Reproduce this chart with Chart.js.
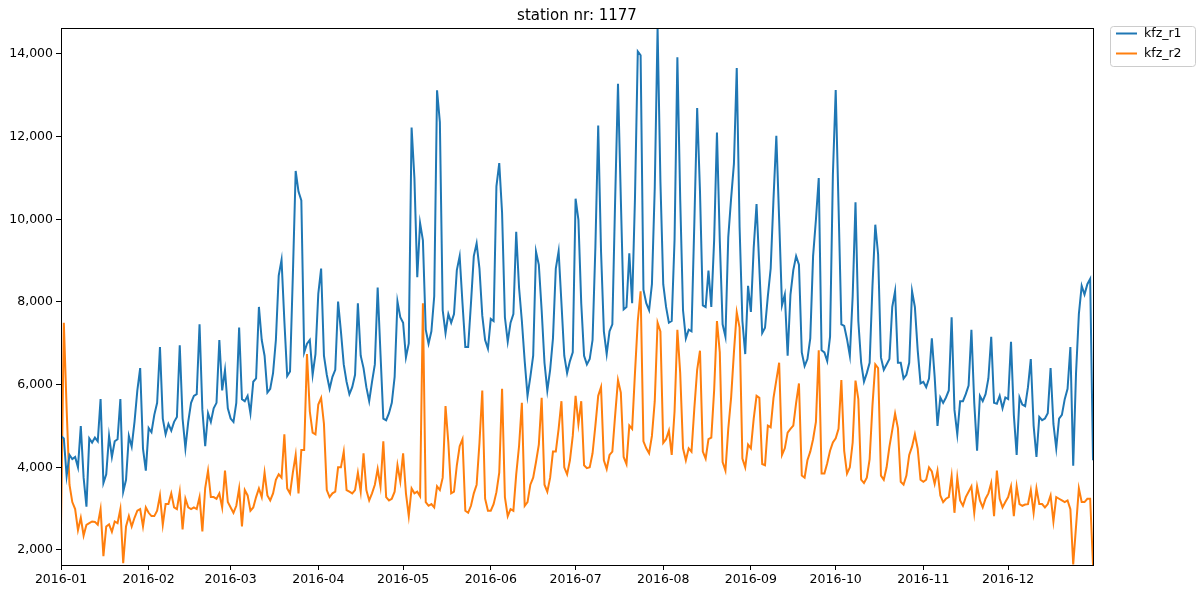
<!DOCTYPE html>
<html>
<head>
<meta charset="utf-8">
<script src="https://cdn.jsdelivr.net/npm/chart.js@4"></script>
<style>
  html, body { margin: 0; padding: 0; background: #fff; }
</style>
</head>
<body>
<canvas id="myChart" width="1200" height="595"></canvas>
<script>
// month ticks on the x axis (day index in 2016)
const monthLabels = ['2016-01', '2016-02', '2016-03', '2016-04', '2016-05', '2016-06',
                     '2016-07', '2016-08', '2016-09', '2016-10', '2016-11', '2016-12'];
const monthStarts = [0, 31, 60, 91, 121, 152, 182, 213, 244, 274, 305, 335];
const yTicks = [2000, 4000, 6000, 8000, 10000, 12000, 14000];

// daily counts, 2016-01-01 .. 2016-12-31
const kfz_r1 = [
  // Jan
  4760, 4700, 3790, 4300, 4200, 4250, 4000, 5000, 3750, 3050, 4700, 4600, 4720, 4630, 5650, 3620,
  3830, 4760, 4250, 4630, 4680, 5650, 3410, 3700, 4760, 4500, 5100, 5860, 6400, 4450, 3920,
  // Feb
  4950, 4850, 5270, 5560, 6910, 5180, 4800, 5050, 4890, 5100, 5220, 6950, 5180, 4460, 5100,
  5560, 5730, 5770, 7460, 5390, 4510, 5310, 5100, 5430, 5560, 7080, 5860, 6350, 5430,
  // Mar
  5180, 5100, 5560, 7380, 5650, 5600, 5730, 5310, 6070, 6150, 7880, 7080, 6700, 5810, 5900, 6280,
  7080, 8640, 9020, 7540, 6210, 6320, 8640, 11170, 10670, 10460, 6780, 6990, 7080, 6240, 6740,
  // Apr
  8200, 8810, 6700, 6240, 5900, 6190, 6360, 8010, 7290, 6490, 6070, 5770, 5940, 6240, 7970,
  6700, 6400, 5940, 5600, 6070, 6490, 8350, 6740, 5180, 5140, 5310, 5560, 6190, 8010, 7630,
  // May
  7500, 6660, 7000, 12220, 10990, 8600, 9910, 9490, 7330, 6990, 7290, 8140, 13120, 12350, 7800, 7250,
  7710, 7500, 7710, 8770, 9110, 7970, 6910, 6910, 7970, 9110, 9420, 8810, 7670, 7080, 6870,
  // Jun
  7590, 7540, 10800, 11360, 10160, 7630, 7040, 7500, 7710, 9700, 8350, 7540, 6570, 5730, 6190,
  6700, 9220, 8900, 7800, 6530, 5860, 6360, 7120, 8810, 9230, 7970, 6700, 6280, 6570, 6780,
  // Jul
  10500, 9990, 7970, 6700, 6490, 6620, 7080, 9320, 12270, 9230, 7290, 6740, 7290, 7460, 10500, 13280,
  10500, 7820, 7880, 9180, 7970, 10500, 14060, 13970, 8300, 7970, 7800, 8430, 10760, 14629, 10920,
  // Aug
  8430, 7880, 7500, 7540, 9500, 13920, 10500, 7800, 7120, 7330, 7290, 9910, 12690, 10670, 7920, 7880,
  8760, 7880, 9490, 12100, 9490, 7460, 7160, 9570, 10500, 11340, 13660, 9820, 7540, 6740, 8390,
  // Sep
  7760, 9320, 10370, 8810, 7250, 7380, 8140, 8810, 10500, 12020, 9990, 7920, 8180, 6700, 8180,
  8770, 9110, 8900, 6780, 6450, 6620, 7120, 9110, 9990, 11000, 6830, 6780, 6570, 7160, 11080,
  // Oct
  13130, 10330, 7460, 7420, 7100, 6700, 8140, 10410, 7540, 6530, 6070, 6280, 6530, 8390, 9870, 9150,
  6660, 6360, 6490, 6620, 7880, 8260, 6530, 6530, 6150, 6240, 6530, 8260, 7880, 6830, 6030,
  // Nov
  6070, 5940, 6150, 7120, 6190, 5000, 5690, 5560, 5690, 5860, 7630, 5390, 4800, 5600, 5600,
  5770, 5980, 7330, 5560, 4400, 5730, 5600, 5770, 6150, 7160, 5560, 5540, 5730, 5430, 5690,
  // Dec
  5650, 7040, 5270, 4300, 5690, 5520, 5480, 5940, 6620, 5010, 4250, 5220, 5140, 5180, 5310, 6400,
  5050, 4460, 5180, 5270, 5650, 5900, 6910, 4040, 6280, 7710, 8390, 8180, 8430, 8560, 4170
];

const kfz_r2 = [
  // Jan
  2560, 7500, 5400, 3580, 3160, 2990, 2480, 2780, 2350, 2610, 2650, 2690, 2680, 2610, 2990, 1850,
  2570, 2620, 2440, 2690, 2650, 2990, 1680, 2570, 2820, 2570, 2780, 2950, 2990, 2570, 3030,
  // Feb
  2900, 2820, 2820, 2950, 3320, 2610, 3110, 3110, 3370, 3030, 2990, 3410, 2500, 3240, 3030,
  2990, 3030, 2990, 3280, 2450, 3500, 3920, 3280, 3280, 3240, 3370, 3030, 3920, 3160,
  // Mar
  3030, 2900, 3070, 3490, 2570, 3450, 3320, 2950, 3030, 3280, 3490, 3280, 3870, 3320, 3200, 3370,
  3700, 3830, 3750, 4800, 3490, 3370, 3870, 4300, 3370, 4420, 4420, 6740, 5350, 4840, 4800,
  // Apr
  5520, 5680, 5050, 3450, 3280, 3370, 3410, 4000, 4000, 4380, 3450, 3410, 3370, 3450, 3870,
  3410, 4340, 3450, 3200, 3370, 3580, 3960, 3540, 4630, 3280, 3200, 3240, 3410, 4050, 3660,
  // May
  4340, 3370, 2820, 3490, 3370, 3410, 3300, 7970, 3160, 3070, 3110, 3030, 3540, 3450, 3750, 5480,
  4590, 3370, 3410, 4050, 4510, 4680, 2950, 2900, 3070, 3370, 3580, 4590, 5860, 3240, 2950,
  // Jun
  2950, 3110, 3400, 3870, 5900, 3280, 2820, 2990, 2950, 3830, 4510, 5560, 3070, 3160, 3580,
  3750, 4130, 4550, 5680, 3580, 3410, 3750, 4380, 4380, 4930, 5600, 4000, 3830, 4170, 4760,
  // Jul
  5730, 5050, 5600, 4050, 3980, 4000, 4340, 5010, 5730, 5940, 4170, 3960, 4300, 4380, 5270, 6110,
  5810, 4250, 4080, 5010, 4930, 6280, 7540, 8260, 4630, 4460, 4340, 4760, 5600, 7500, 7290,
  // Aug
  4590, 4680, 4890, 4300, 5350, 7330, 6280, 4460, 4170, 4460, 4380, 5430, 6360, 6820, 4380, 4210,
  4680, 4720, 5860, 7540, 6780, 4130, 3920, 4930, 5680, 6780, 7750, 7380, 4210, 4000, 4550,
  // Sep
  4460, 5180, 5730, 5680, 4080, 4050, 5010, 4970, 5680, 6110, 6530, 4300, 4460, 4840, 4930,
  5010, 5560, 6030, 3800, 3750, 4170, 4380, 4680, 5100, 6830, 3850, 3850, 4100, 4400, 4600,
  // Oct
  4700, 4930, 6110, 4400, 3850, 4000, 4600, 6100, 5650, 3700, 3620, 3750, 4200, 5500, 6490, 6400,
  3800, 3700, 4000, 4500, 4900, 5300, 4950, 3650, 3580, 3800, 4300, 4500, 4800, 4450, 3700,
  // Nov
  3650, 3700, 4000, 3900, 3600, 3920, 3320, 3160, 3240, 3280, 3790, 2900, 3750, 3200, 3070,
  3280, 3410, 3540, 2900, 3540, 3200, 3030, 3240, 3370, 3620, 2820, 3920, 3240, 3030, 3160,
  // Dec
  3280, 3540, 2820, 3540, 3110, 3070, 3100, 3110, 3450, 2900, 3490, 3110, 3110, 3030, 3110, 3320,
  2690, 3280, 3240, 3200, 3160, 3200, 2990, 1650, 2570, 3490, 3160, 3160, 3240, 3240, 1640
];

const seriesNames = ['kfz_r1', 'kfz_r2'];
const seriesColors = ['#1f77b4', '#ff7f0e'];

const FONT = 'DejaVu Sans';

// black box round the plot, like matplotlib spines
const frameBox = {
  id: 'frameBox',
  afterDraw(chart) {
    const {ctx, chartArea: a} = chart;
    ctx.save();
    ctx.strokeStyle = '#000';
    ctx.lineWidth = 1;
    ctx.strokeRect(Math.round(a.left) + 0.5, Math.round(a.top) + 0.5,
                   Math.round(a.right - a.left), Math.round(a.bottom - a.top));
    ctx.restore();
  }
};

// legend outside the axes, top right
const outerLegend = {
  id: 'outerLegend',
  afterDraw(chart) {
    const ctx = chart.ctx;
    const x0 = 1110.5, y0 = 26.5, w = 85, h = 40;
    ctx.save();
    ctx.fillStyle = 'rgba(255,255,255,0.8)';
    ctx.strokeStyle = '#cccccc';
    ctx.lineWidth = 1;
    ctx.beginPath();
    ctx.roundRect(x0, y0, w, h, 3);
    ctx.fill();
    ctx.stroke();
    ctx.font = '12.5px "' + FONT + '"';
    ctx.textBaseline = 'middle';
    chart.data.datasets.forEach((ds, i) => {
      const yy = 33.5 + i * 20;
      ctx.strokeStyle = ds.borderColor;
      ctx.lineWidth = 2;
      ctx.beginPath();
      ctx.moveTo(1116, yy);
      ctx.lineTo(1137, yy);
      ctx.stroke();
      ctx.fillStyle = '#000';
      ctx.fillText(ds.label, 1144, yy);
    });
    ctx.restore();
  }
};

const cht = document.getElementById('myChart').getContext('2d');

const myChart = new Chart(cht, {
  type: 'line',
  data: {
    datasets: seriesNames.map((name, k) => ({
      label: name,
      data: (k === 0 ? kfz_r1 : kfz_r2).map((v, i) => ({x: i, y: v})),
      borderColor: seriesColors[k],
      backgroundColor: seriesColors[k],
      borderWidth: 2,
      pointRadius: 0,
      tension: 0
    }))
  },
  options: {
    responsive: false,
    animation: false,
    layout: { padding: { left: 0, right: 107, top: 0, bottom: 0 } },
    plugins: {
      legend: { display: false },
      tooltip: { enabled: false },
      title: {
        display: true,
        text: 'station nr: 1177',
        fullSize: false,
        color: '#000',
        font: { family: FONT, size: 15, weight: 'normal' },
        padding: { top: 7, bottom: 3 }
      }
    },
    scales: {
      x: {
        type: 'linear',
        min: 0,
        max: 365,
        afterBuildTicks: (scale) => { scale.ticks = monthStarts.map(v => ({value: v})); },
        afterFit: (scale) => { scale.height = 30; },
        ticks: {
          autoSkip: false,
          maxRotation: 0,
          color: '#000',
          padding: 2,
          font: { family: FONT, size: 12.5 },
          callback: (v) => monthLabels[monthStarts.indexOf(v)]
        },
        grid: { drawOnChartArea: false, drawTicks: true, tickLength: 5, color: '#000' },
        border: { display: true, color: '#000' }
      },
      y: {
        min: 1637,
        max: 14629,
        afterBuildTicks: (scale) => { scale.ticks = yTicks.map(v => ({value: v})); },
        afterFit: (scale) => { scale.width = 61; },
        ticks: {
          color: '#000',
          padding: 3,
          font: { family: FONT, size: 12.5 },
          callback: (v) => v.toLocaleString('en-US')
        },
        grid: { drawOnChartArea: false, drawTicks: true, tickLength: 5, color: '#000' },
        border: { display: true, color: '#000' }
      }
    }
  },
  plugins: [frameBox, outerLegend]
});
</script>
</body>
</html>
